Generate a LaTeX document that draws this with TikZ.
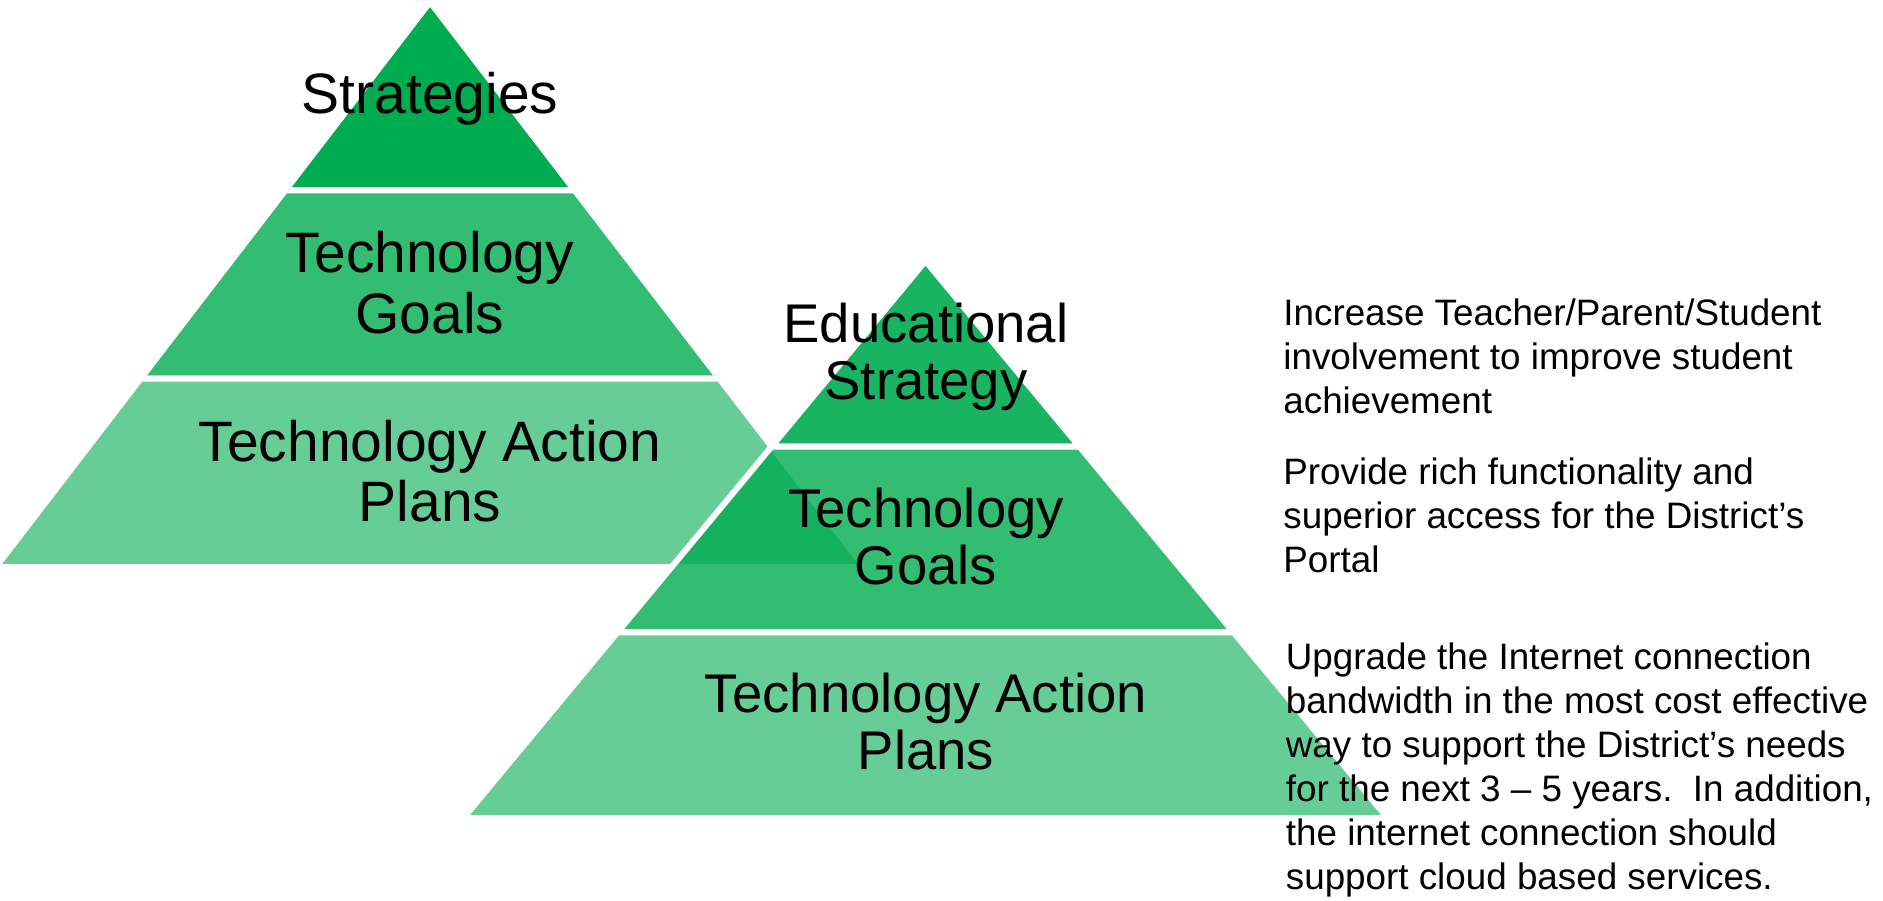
\documentclass[tikz,border=0pt]{standalone}
\usepackage{fontspec}
\setmainfont{Liberation Sans}
\definecolor{pg}{HTML}{00AC50}
\begin{document}
\begin{tikzpicture}[x=0.5pt,y=-0.5pt,
  tier/.style={draw=white, line width=3pt, line join=miter},
  lbl/.style={font=\fontsize{28.5}{30.25}\selectfont, align=center, inner sep=0pt, anchor=base},
  rlbl/.style={font=\fontsize{27.25}{28.75}\selectfont, align=center, inner sep=0pt, anchor=base},
  side/.style={font=\fontsize{18.4}{21.95}\selectfont, align=left, inner sep=0pt, anchor=base west}]
\useasboundingbox (0,0) rectangle (1883,900);
% left pyramid
\path[tier, fill=pg] (430,2) -- (574.6,190.3) -- (285.4,190.3) -- cycle;
\path[tier, fill=pg!80] (285.4,190.3) -- (574.6,190.3) -- (719.4,378.7) -- (140.6,378.7) -- cycle;
\path[tier, fill=pg!60] (140.6,378.7) -- (719.4,378.7) -- (864,567) -- (-4,567) -- cycle;
% (anchor base = baseline of the last line)
\node[lbl] (ls) at (430,113) {Strategies};
\node[lbl] (lg) at (430,333) {Technology\\Goals};
\node[lbl] (la) at (430,521.6) {Technology Action\\Plans};
% right pyramid
\path[tier, fill=pg, fill opacity=0.9] (925.5,261) -- (1079.5,446.7) -- (771.5,446.7) -- cycle;
\path[tier, fill=pg, fill opacity=0.8] (771.5,446.7) -- (1079.5,446.7) -- (1233.5,632.3) -- (617.5,632.3) -- cycle;
\path[tier, fill=pg, fill opacity=0.6] (617.5,632.3) -- (1233.5,632.3) -- (1387.5,818) -- (463.5,818) -- cycle;
\node[rlbl] (rs) at (926,399.8) {Educational\\Strategy};
\node[rlbl] (rg) at (926,584.8) {Technology\\Goals};
\node[rlbl] (ra) at (926,769.8) {Technology Action\\Plans};
% side texts
\node[side] (p1) at (1283,413.6) {Increase Teacher/Parent/Student\\involvement to improve student\\achievement};
\node[side] (p2) at (1283,572.6) {Provide rich functionality and\\superior access for the District’s\\Portal};
\node[side] (p3) at (1285.5,889) {Upgrade the Internet connection\\bandwidth in the most cost effective\\way to support the District’s needs\\for the next 3 -- 5 years.\ \ In addition,\\the internet connection should\\support cloud based services.};
\end{tikzpicture}
\end{document}
